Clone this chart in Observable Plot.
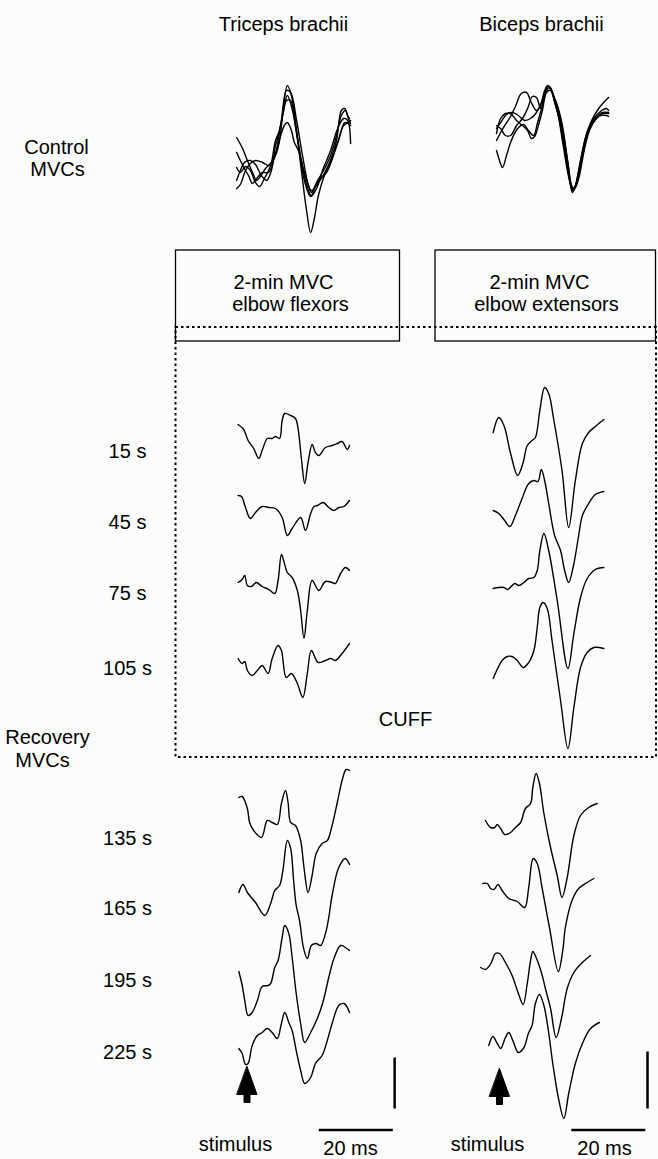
<!DOCTYPE html>
<html><head><meta charset="utf-8">
<script src="https://cdn.jsdelivr.net/npm/d3@7"></script>
<script src="https://cdn.jsdelivr.net/npm/@observablehq/plot@0.6"></script>
<style>
html,body{margin:0;padding:0;background:#fbfcfb;}
#chart svg{display:block}
</style></head><body><div id="chart"></div>
<script>
// ---------- labels ----------
const muscles = ["Triceps brachii", "Biceps brachii"];
const conditionLines = [["2-min MVC", "elbow flexors"], ["2-min MVC", "elbow extensors"]];
const rowLabels = ["15 s", "45 s", "75 s", "105 s", "135 s", "165 s", "195 s", "225 s"];
const controlLabel = ["Control", "MVCs"];
const recoveryLabel = ["Recovery", "MVCs"];
const cuffLabel = "CUFF";
const stimulusLabel = "stimulus";
const timeBarMs = 20;
const timeBarLabel = "20 ms";

// ---------- traces: [time after stimulus (ms), amplitude (a.u.)] ----------
const tricepsControl1 = [[-2.8,23],[-1.2,12],[0.1,0],[1.5,-12],[2.6,-20],[3.6,-16],[5.0,-8],[6.4,-3],[7.7,5],[8.8,20],[9.9,55],[10.9,75],[12.0,65],[13.4,30],[14.7,-10],[16.1,-50],[17.2,-72],[18.2,-58],[19.3,-35],[20.9,-15],[22.6,0],[24.2,20],[25.5,50],[26.4,52],[27.2,45],[27.7,42]];
const tricepsControl2 = [[-2.8,8],[-1.8,0],[-0.7,-8],[0.4,-15],[1.5,-23],[2.6,-18],[4.2,-12],[5.8,-12],[7.2,0],[8.2,15],[9.3,40],[10.7,70],[11.8,68],[13.4,40],[15.0,5],[16.6,-25],[17.4,-32],[18.5,-25],[19.9,-18],[21.5,-12],[23.1,2],[24.7,20],[26.1,35],[27.4,38],[28.0,40]];
const tricepsControl3 = [[-2.8,-7],[-1.8,-12],[-0.4,-6],[0.9,-10],[2.3,-22],[3.4,-26],[4.7,-18],[6.4,-5],[7.7,20],[8.8,30],[9.9,50],[10.9,65],[12.3,50],[13.9,15],[15.5,-20],[17.2,-36],[18.8,-28],[20.4,-10],[22.6,10],[24.5,32],[26.1,42],[27.2,40],[28.0,17]];
const tricepsControl4 = [[-2.8,-28],[-1.8,-24],[-0.4,-10],[0.9,-3],[2.3,0],[4.2,-2],[5.8,-5],[6.9,0],[8.0,10],[9.1,25],[10.1,35],[10.9,38],[12.0,30],[12.8,18],[13.9,10],[15.0,-5],[16.4,-23],[17.4,-30],[18.8,-25],[20.4,-16],[22.6,0],[24.7,20],[26.4,38],[27.4,37],[28.0,35]];
const tricepsControl5 = [[-2.8,-20],[-1.8,-10],[-0.7,-2],[0.9,0],[2.3,-4],[3.9,-15],[5.3,-20],[6.6,-10],[7.7,15],[8.5,25],[9.6,45],[10.7,60],[11.8,60],[13.1,35],[14.7,0],[16.4,-28],[17.4,-35],[18.8,-22],[20.4,-12],[22.6,5],[24.2,25],[25.5,45],[26.6,50],[27.4,42],[28.0,37]];

const bicepsControl1 = [[-0.8,20],[0.3,28],[1.6,36],[3.0,44],[4.3,54],[5.9,67],[7.3,68],[8.6,58],[10.0,50],[11.1,55],[12.2,70],[13.0,75],[13.8,72],[14.9,60],[15.9,45],[17.0,20],[18.1,-5],[19.2,-25],[19.7,-32],[20.5,-25],[21.9,0],[23.2,22],[24.9,40],[26.8,52],[28.4,59],[29.5,63]];
const bicepsControl2 = [[-0.8,35],[0.3,32],[1.6,25],[3.0,25],[4.6,35],[6.2,42],[7.6,52],[8.9,64],[10.0,63],[11.1,52],[11.9,60],[12.7,72],[13.5,74],[14.6,65],[15.7,53],[16.8,35],[18.1,0],[19.2,-23],[20.0,-30],[20.8,-22],[22.2,5],[23.8,30],[25.7,43],[27.6,50],[28.9,52],[29.5,50]];
const bicepsControl3 = [[-0.8,10],[0,0],[0.8,-7],[1.9,5],[3.2,20],[4.9,32],[6.5,36],[7.8,30],[9.2,25],[10.3,38],[11.6,55],[12.7,70],[13.5,73],[14.6,65],[15.9,52],[17.0,35],[18.4,0],[19.5,-25],[20.3,-28],[21.4,-18],[23.0,12],[24.6,33],[26.5,44],[28.1,47],[29.5,47]];
const bicepsControl4 = [[-0.8,27],[0.3,42],[1.6,47],[3.0,47],[4.6,40],[6.2,35],[7.6,30],[8.6,22],[9.5,24],[10.5,35],[11.6,50],[12.7,68],[13.8,70],[14.9,58],[16.2,42],[17.3,25],[18.6,-5],[19.7,-28],[20.5,-26],[21.9,-5],[23.5,22],[25.4,38],[27.3,45],[28.9,45],[29.5,44]];
const bicepsControl5 = [[-0.8,32],[0.3,38],[1.9,46],[3.5,48],[5.1,45],[6.8,40],[8.4,42],[10.0,48],[11.1,56],[12.2,68],[13.0,74],[14.1,70],[15.1,56],[16.2,40],[17.6,10],[18.9,-18],[19.7,-30],[20.8,-24],[22.2,0],[24.1,30],[25.9,42],[27.8,48],[29.5,48]];

const tricepsCuff15 = [[-2.4,27],[-0.9,22],[0.3,11],[1.8,3],[3.2,-7],[4.1,1],[5.5,13],[6.8,13],[7.7,15],[8.8,13],[9.5,31],[10.2,38],[11.8,36],[13.1,33],[13.8,23],[14.7,-7],[15.6,-32],[16.5,-11],[17.6,7],[18.5,-1],[19.4,-4],[21.2,4],[23.0,6],[24.4,8],[25.7,10],[27.1,2],[27.7,6]];
const tricepsCuff45 = [[-2.4,27],[-1.5,26],[-0.4,15],[0.9,4],[2.3,10],[4.1,16],[5.9,15],[7.7,14],[9.5,5],[10.9,-13],[12.2,-6],[14.5,5],[15.8,-8],[17.2,9],[18.1,16],[19.0,17],[20.6,20],[22.1,15],[23.5,12],[24.8,15],[26.2,16],[27.7,22]];
const tricepsCuff75 = [[-2.4,11],[-1.3,14],[-0.6,18],[0.1,8],[1.2,7],[2.5,11],[4.1,7],[5.9,4],[7.5,0],[8.4,13],[9.3,39],[9.9,33],[10.9,21],[12.2,16],[13.6,3],[14.5,-17],[15.4,-45],[16.3,-17],[17.6,13],[19.4,3],[21.2,12],[23.0,11],[23.9,10],[25.3,20],[26.6,26],[27.7,23]];
const tricepsCuff105 = [[-2.4,10],[-1.3,5],[-0.6,7],[0.1,-2],[1.4,-7],[2.8,-2],[4.1,3],[5.7,-5],[6.8,10],[8.4,23],[9.3,18],[10.6,-9],[12.0,-5],[13.6,-15],[15.1,-29],[16.3,-5],[17.4,18],[19.2,6],[21.2,8],[22.6,10],[23.9,8],[25.7,15],[27.7,25]];

const bicepsCuff15 = [[-1.7,19],[-0.2,34],[1.2,26],[3.0,-2],[4.9,-24],[6.4,-11],[7.5,6],[8.8,11],[9.7,14],[10.9,41],[12.2,64],[13.3,58],[14.7,31],[16.9,-19],[18.7,-76],[20.5,-29],[22.4,8],[24.1,19],[25.9,25],[28.2,32]];
const bicepsCuff45 = [[-1.7,12],[-0.2,9],[1.4,2],[2.8,-4],[4.3,7],[6.1,24],[7.9,39],[9.3,42],[10.4,41],[11.3,53],[12.2,42],[13.3,19],[14.9,-13],[16.5,-28],[17.6,-48],[18.7,-60],[20.0,-43],[21.4,-13],[22.4,7],[24.1,19],[25.9,28],[28.2,31]];
const bicepsCuff75 = [[-1.7,5],[-0.2,6],[1.2,6],[2.2,4],[3.4,8],[4.1,10],[5.2,8],[6.6,11],[7.9,15],[9.3,16],[10.2,23],[10.9,43],[12.0,60],[13.3,43],[15.6,-7],[18.5,-75],[20.1,-40],[21.9,-4],[23.7,15],[25.9,24],[28.2,26]];
const bicepsCuff105 = [[-1.7,-10],[-0.5,0],[0.7,8],[2.1,12],[3.4,12],[4.8,8],[6.4,1],[7.9,6],[9.3,18],[10.2,41],[10.9,61],[11.8,66],[12.9,60],[14.2,28],[16.5,-32],[18.5,-80],[20.1,-39],[21.9,1],[23.7,16],[25.5,21],[28.2,20]];

const tricepsRec135 = [[-2.2,41],[-1.3,42],[0.1,30],[0.7,16],[1.8,8],[3.9,1],[5.5,18],[6.8,16],[8.2,14],[9.3,35],[10.4,48],[11.1,36],[11.8,16],[13.1,13],[14.5,-2],[15.4,-29],[16.5,-54],[17.6,-37],[18.7,-15],[20.3,-5],[21.7,-2],[23.0,13],[24.4,36],[25.7,58],[26.8,69],[27.7,68]];
const tricepsRec165 = [[-2.2,16],[-1.1,24],[0.1,16],[2.3,6],[4.8,-7],[6.4,5],[7.5,18],[8.8,23],[9.7,38],[10.9,68],[11.8,60],[12.6,28],[13.3,3],[14.2,-12],[15.3,-40],[16.3,-50],[17.4,-37],[18.7,-35],[19.9,-37],[21.2,-25],[22.1,-9],[23.0,13],[24.8,41],[26.6,50],[27.7,44]];
const tricepsRec195 = [[-2.2,9],[-1.3,-5],[-0.6,-20],[0.3,-35],[1.4,-32],[2.8,-20],[4.1,-6],[5.7,-5],[6.4,-3],[7.5,13],[8.4,20],[9.5,43],[10.2,55],[11.3,47],[12.2,23],[13.3,-13],[14.5,-43],[15.6,-62],[17.2,-52],[19.0,-38],[20.5,-22],[22.1,3],[23.5,22],[25.3,35],[26.6,33],[27.7,30]];
const tricepsRec225 = [[-2.2,4],[-1.3,-1],[-0.4,-12],[0.3,-11],[1.4,7],[2.8,17],[4.1,20],[5.5,24],[6.8,20],[8.2,14],[9.3,29],[10.2,40],[11.3,30],[12.2,22],[13.3,2],[14.5,-18],[15.6,-31],[17.2,-25],[18.5,-11],[20.3,-3],[21.7,12],[23.0,29],[24.8,47],[26.2,49],[26.8,47],[27.7,40]];

const bicepsRec135 = [[-3.8,18],[-2.4,11],[-1.3,11],[-0.6,14],[0.3,10],[1.4,4],[3.0,6],[4.3,11],[5.7,16],[7.0,30],[8.4,35],[9.0,51],[9.9,65],[10.8,55],[12.0,25],[13.8,-9],[15.6,-37],[16.9,-59],[18.3,-39],[20.1,3],[21.9,23],[24.1,31],[26.4,35]];
const bicepsRec165 = [[-4.5,25],[-3.3,25],[-2.4,20],[-1.5,19],[-0.4,24],[0.7,18],[2.5,10],[4.8,7],[6.8,1],[7.9,21],[9.1,50],[10.2,45],[11.5,21],[13.5,-19],[15.9,-63],[17.1,-42],[17.8,-19],[19.6,8],[21.4,20],[23.7,26],[25.5,30]];
const bicepsRec195 = [[-5.1,13],[-3.8,11],[-3.1,13],[-2.2,18],[-1.1,27],[0,27],[1.6,18],[3.4,5],[5.1,-13],[6.4,-24],[7.5,-3],[8.4,20],[9.0,29],[9.9,23],[11.4,7],[12.4,-8],[13.8,-28],[15.3,-57],[16.8,-37],[18.3,-8],[20.1,8],[22.4,18],[24.6,25]];
const bicepsRec225 = [[-2.9,7],[-1.8,16],[-0.6,9],[0.3,4],[1.6,15],[2.5,20],[3.6,12],[5.1,0],[6.6,5],[7.8,19],[8.8,27],[9.7,49],[10.8,58],[12.0,47],[13.2,22],[14.4,-11],[15.9,-45],[17.4,-66],[18.7,-41],[20.5,-11],[22.4,9],[24.6,24],[27.0,30]];

// ---------- layout (page geometry) ----------
const W = 658, H = 1159;
const pxPerMs = 3.7;                 // 20 ms bar = 74 px
const stimX = [246.5, 499];          // stimulus time (0 ms) per column
const controlBase = 160;
const rowBase = [451, 522, 593, 668, 838, 908, 980, 1052];
const calib = [{y1: 1057, y2: 1108, t: 39.9}, {y1: 1051, y2: 1108, t: 40}];
const timeBarStart = 19.4, timeBarY = 1129.5;
const arrowTip = [1066, 1068];

const traces = [
  [0, controlBase, tricepsControl1], [0, controlBase, tricepsControl2], [0, controlBase, tricepsControl3],
  [0, controlBase, tricepsControl4], [0, controlBase, tricepsControl5],
  [1, controlBase, bicepsControl1], [1, controlBase, bicepsControl2], [1, controlBase, bicepsControl3],
  [1, controlBase, bicepsControl4], [1, controlBase, bicepsControl5],
  [0, rowBase[0], tricepsCuff15], [0, rowBase[1], tricepsCuff45], [0, rowBase[2], tricepsCuff75], [0, rowBase[3], tricepsCuff105],
  [1, rowBase[0], bicepsCuff15], [1, rowBase[1], bicepsCuff45], [1, rowBase[2], bicepsCuff75], [1, rowBase[3], bicepsCuff105],
  [0, rowBase[4], tricepsRec135], [0, rowBase[5], tricepsRec165], [0, rowBase[6], tricepsRec195], [0, rowBase[7], tricepsRec225],
  [1, rowBase[4], bicepsRec135], [1, rowBase[5], bicepsRec165], [1, rowBase[6], bicepsRec195], [1, rowBase[7], bicepsRec225]
];

const lineData = traces.flatMap(([col, base, pts], id) =>
  pts.map(([t, a]) => ({id, x: stimX[col] + t * pxPerMs, y: base - a})));

const font = "'Liberation Sans', Arial, sans-serif";
const fs = 20;

const texts = [
  {text: muscles[0], x: 283, y: 24},
  {text: muscles[1], x: 541, y: 24},
  {text: controlLabel[0], x: 56, y: 147},
  {text: controlLabel[1], x: 57, y: 169},
  {text: conditionLines[0][0], x: 283, y: 282},
  {text: conditionLines[0][1], x: 290, y: 304},
  {text: conditionLines[1][0], x: 539, y: 282},
  {text: conditionLines[1][1], x: 546, y: 304},
  {text: cuffLabel, x: 405, y: 719},
  {text: recoveryLabel[0], x: 47, y: 737},
  {text: recoveryLabel[1], x: 42, y: 760},
  ...rowLabels.map((l, i) => ({text: l, x: 127, y: rowBase[i]})),
  {text: stimulusLabel, x: 235, y: 1144},
  {text: stimulusLabel, x: 487, y: 1144},
  {text: timeBarLabel, x: 350, y: 1148},
  {text: timeBarLabel, x: 604, y: 1148}
];

const boxes = [
  {x1: 175.5, x2: 399.5, y1: 250, y2: 341},
  {x1: 435, x2: 655.5, y1: 250, y2: 341}
];
const cuffRect = [{x1: 175.5, x2: 656, y1: 327, y2: 757}];

const bars = [0, 1].flatMap(c => [
  {x1: stimX[c] + calib[c].t * pxPerMs, x2: stimX[c] + calib[c].t * pxPerMs, y1: calib[c].y1, y2: calib[c].y2},
  {x1: stimX[c] + timeBarStart * pxPerMs, x2: stimX[c] + (timeBarStart + timeBarMs) * pxPerMs, y1: timeBarY, y2: timeBarY}
]);

const arrows = [0, 1].flatMap(c => {
  const x = stimX[c], y = arrowTip[c];
  return [[0, 0], [10, 28], [3, 28], [3, 36], [-3, 36], [-3, 28], [-10, 28]].map(([dx, dy]) => ({c, x: x + dx, y: y + dy}));
});

const chart = Plot.plot({
  width: W, height: H, margin: 0,
  x: {domain: [0, W], range: [0, W], axis: null},
  y: {domain: [0, H], range: [0, H], axis: null},
  style: {background: "#fbfcfb", fontFamily: font},
  marks: [
    Plot.rect(boxes, {x1: "x1", x2: "x2", y1: "y1", y2: "y2", fill: "none", stroke: "black", strokeWidth: 1.3}),
    Plot.rect(cuffRect, {x1: "x1", x2: "x2", y1: "y1", y2: "y2", fill: "none", stroke: "black", strokeWidth: 2, strokeDasharray: "2.5,3"}),
    Plot.line(lineData, {x: "x", y: "y", z: "id", curve: "catmull-rom", stroke: "black", strokeWidth: 1.4}),
    Plot.link(bars, {x1: "x1", x2: "x2", y1: "y1", y2: "y2", stroke: "black", strokeWidth: 2.5}),
    Plot.line(arrows, {x: "x", y: "y", z: "c", fill: "black", stroke: "black", strokeWidth: 1, curve: "linear-closed"}),
    Plot.text(texts, {x: "x", y: "y", text: "text", fontSize: fs, fill: "black", textAnchor: "middle"})
  ]
});
document.getElementById("chart").append(chart);
</script></body></html>
